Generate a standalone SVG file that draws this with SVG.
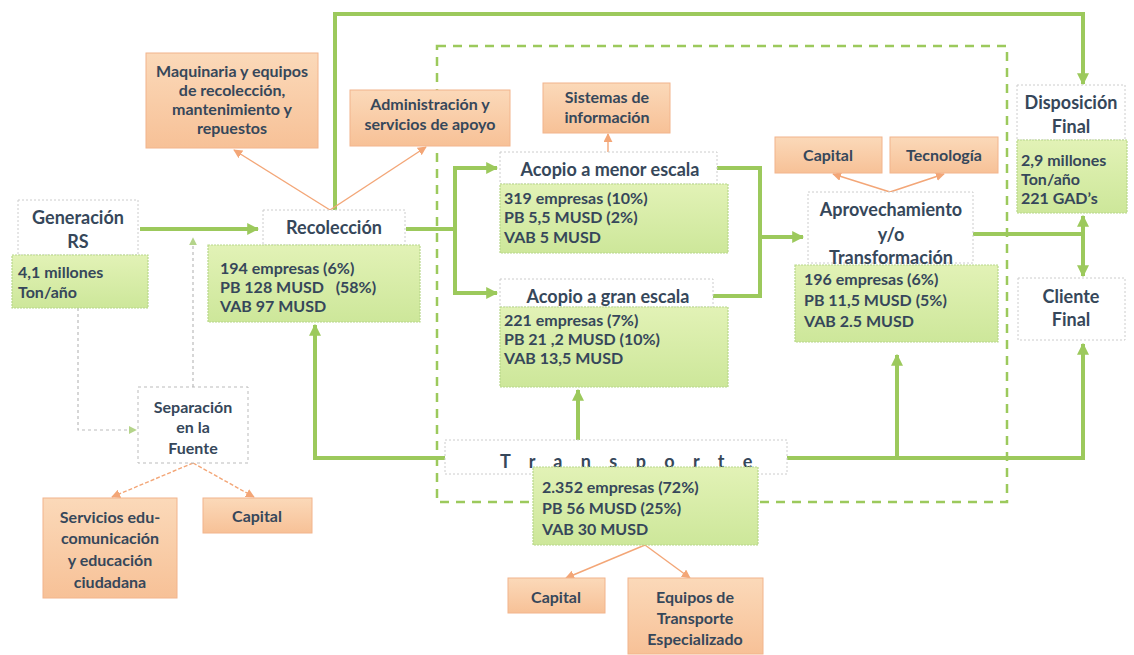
<svg xmlns="http://www.w3.org/2000/svg" width="1134" height="655" viewBox="0 0 1134 655">
<defs>
<linearGradient id="gg" x1="0" y1="0" x2="0" y2="1"><stop offset="0" stop-color="#e2f2b6"/><stop offset="1" stop-color="#cde79a"/></linearGradient>
<linearGradient id="og" x1="0" y1="0" x2="0" y2="1"><stop offset="0" stop-color="#fbd9b9"/><stop offset="1" stop-color="#f7c197"/></linearGradient>
<marker id="ag" viewBox="0 0 10 10" refX="9" refY="5" markerWidth="12" markerHeight="12" markerUnits="userSpaceOnUse" orient="auto"><path d="M0,0 L10,5 L0,10 z" fill="#9cc95c"/></marker>
<marker id="ao" viewBox="0 0 10 10" refX="9" refY="5" markerWidth="9" markerHeight="9" markerUnits="userSpaceOnUse" orient="auto"><path d="M0,0 L10,5 L0,10 z" fill="#f3a677"/></marker>
<marker id="ax" viewBox="0 0 10 10" refX="9" refY="5" markerWidth="8" markerHeight="8" markerUnits="userSpaceOnUse" orient="auto"><path d="M0,0 L10,5 L0,10 z" fill="#b4d48a"/></marker>
</defs>
<style>
text{font-family:Lato,"Open Sans","Liberation Sans",sans-serif;font-weight:bold;font-size:16px;fill:#36475a}
.c{text-anchor:middle}
.t{font-size:18px}
.k{font-size:16px}
.w{fill:#ffffff;stroke:#cccccc;stroke-width:1;stroke-dasharray:2 2}
.g{fill:url(#gg);stroke:#b8d88a;stroke-width:1.2;stroke-dasharray:2 1}
.o{fill:url(#og);stroke:#f2b48c;stroke-width:1}
.gl{fill:none;stroke:#9cc95c;stroke-width:4}
.ol{fill:none;stroke:#f3a677;stroke-width:1.4}
.od{fill:none;stroke:#f3a677;stroke-width:1.4;stroke-dasharray:4 2}
.xl{fill:none;stroke:#bbbbbb;stroke-width:1.2;stroke-dasharray:3 3}
.dr{fill:none;stroke:#9cc95c;stroke-width:2.5;stroke-dasharray:9 7}
</style>
<rect class="dr" x="437" y="46" width="570" height="456"/>
<g id="connectors">
<path class="gl" d="M140,229 H258" marker-end="url(#ag)"/>
<path class="gl" d="M406,229 H455"/>
<path class="gl" d="M455,229 V168 H497" marker-end="url(#ag)"/>
<path class="gl" d="M455,229 V293 H497" marker-end="url(#ag)"/>
<path class="gl" d="M717,168 H760 V296 H713"/>
<path class="gl" d="M760,237 H803" marker-end="url(#ag)"/>
<path class="gl" d="M973,234 H1083"/>
<path class="gl" d="M1083,234 V216" marker-end="url(#ag)"/>
<path class="gl" d="M1083,234 V276" marker-end="url(#ag)"/>
<path class="gl" d="M335,210 V14 H1083 V84" marker-end="url(#ag)"/>
<path class="gl" d="M445,458 H315 V325" marker-end="url(#ag)"/>
<path class="gl" d="M787,458 H1083 V344" marker-end="url(#ag)"/>
<path class="gl" d="M578,440 V390" marker-end="url(#ag)"/>
<path class="gl" d="M897,458 V355" marker-end="url(#ag)"/>
<path class="ol" d="M330,210 L234,150" marker-end="url(#ao)"/>
<path class="ol" d="M330,210 L426,147" marker-end="url(#ao)"/>
<path class="ol" d="M608,152 V134" marker-end="url(#ao)"/>
<path class="ol" d="M890,192 L833,174" marker-end="url(#ao)"/>
<path class="ol" d="M890,192 L944,174" marker-end="url(#ao)"/>
<path class="ol" d="M645,545 L566,578" marker-end="url(#ao)"/>
<path class="ol" d="M645,545 L690,578" marker-end="url(#ao)"/>
<path class="od" d="M193,463 L112,497" marker-end="url(#ao)"/>
<path class="od" d="M193,463 L254,497" marker-end="url(#ao)"/>
<path class="xl" d="M78,308 V430 H136" marker-end="url(#ax)"/>
<path class="xl" d="M193,387 V238" marker-end="url(#ax)"/>
</g>
<g id="generacion">
<rect class="w" x="18" y="200" width="120" height="55"/>
<text class="c t" x="78" y="224">Generación</text>
<text class="c t" x="78" y="248">RS</text>
<rect class="g" x="12" y="255" width="136" height="53"/>
<text x="18" y="278">4,1 millones</text>
<text x="18" y="298">Ton/año</text>
</g>
<g id="recoleccion">
<rect class="w" x="263" y="210" width="142" height="35"/>
<text class="c t" x="334" y="234">Recolección</text>
<rect class="g" x="208" y="245" width="212" height="77"/>
<text x="220" y="274">194 empresas (6%)</text>
<text x="220" y="293">PB 128 MUSD &#160;&#160;(58%)</text>
<text x="220" y="312">VAB 97 MUSD</text>
</g>
<g id="maquinaria">
<rect class="o" x="146" y="53" width="172" height="95"/>
<text class="c k" x="232" y="77">Maquinaria y equipos</text>
<text class="c k" x="232" y="96">de recolección,</text>
<text class="c k" x="232" y="115">mantenimiento y</text>
<text class="c k" x="232" y="134">repuestos</text>
</g>
<g id="administracion">
<rect class="o" x="350" y="90" width="160" height="56"/>
<text class="c k" x="430" y="110">Administración y</text>
<text class="c k" x="430" y="130">servicios de apoyo</text>
</g>
<g id="sistemas">
<rect class="o" x="543" y="83" width="127" height="50"/>
<text class="c k" x="607" y="103">Sistemas de</text>
<text class="c k" x="607" y="123">información</text>
</g>
<g id="acopio-menor">
<rect class="w" x="500" y="152" width="217" height="32"/>
<text class="c t" x="610" y="176">Acopio a menor escala</text>
<rect class="g" x="500" y="184" width="228" height="69"/>
<text x="504" y="204">319 empresas (10%)</text>
<text x="504" y="223">PB 5,5 MUSD (2%)</text>
<text x="504" y="243">VAB 5 MUSD</text>
</g>
<g id="acopio-gran">
<rect class="w" x="500" y="279" width="213" height="28"/>
<text class="c t" x="608" y="303">Acopio a gran escala</text>
<rect class="g" x="500" y="307" width="228" height="80"/>
<text x="504" y="326">221 empresas (7%)</text>
<text x="504" y="345">PB 21 ,2 MUSD (10%)</text>
<text x="504" y="364">VAB 13,5 MUSD</text>
</g>
<g id="capital-top">
<rect class="o" x="775" y="137" width="107" height="36"/>
<text class="c k" x="828" y="161">Capital</text>
</g>
<g id="tecnologia">
<rect class="o" x="890" y="137" width="108" height="36"/>
<text class="c k" x="944" y="161">Tecnología</text>
</g>
<g id="aprovechamiento">
<rect class="w" x="808" y="192" width="165" height="71"/>
<text class="c t" x="891" y="216">Aprovechamiento</text>
<text class="c t" x="891" y="241">y/o</text>
<text class="c t" x="891" y="264">Transformación</text>
<rect class="g" x="795" y="265" width="203" height="77"/>
<text x="804" y="285">196 empresas (6%)</text>
<text x="804" y="306">PB 11,5 MUSD (5%)</text>
<text x="804" y="327">VAB 2.5 MUSD</text>
</g>
<g id="disposicion">
<rect class="w" x="1017" y="85" width="108" height="55"/>
<text class="c t" x="1071" y="109">Disposición</text>
<text class="c t" x="1071" y="133">Final</text>
<rect class="g" x="1017" y="140" width="110" height="73"/>
<text x="1021" y="166">2,9 millones</text>
<text x="1021" y="185">Ton/año</text>
<text x="1021" y="204">221 GAD’s</text>
</g>
<g id="cliente">
<rect class="w" x="1018" y="278" width="107" height="62"/>
<text class="c t" x="1071" y="303">Cliente</text>
<text class="c t" x="1071" y="326">Final</text>
</g>
<g id="separacion">
<rect class="w" x="138" y="387" width="110" height="76" style="stroke:#bbbbbb;stroke-dasharray:3 3"/>
<text class="c k" x="193" y="413">Separación</text>
<text class="c k" x="193" y="433">en la</text>
<text class="c k" x="193" y="454">Fuente</text>
</g>
<g id="servicios">
<rect class="o" x="43" y="498" width="134" height="100"/>
<text class="c k" x="110" y="523">Servicios edu-</text>
<text class="c k" x="110" y="544">comunicación</text>
<text class="c k" x="110" y="566">y educación</text>
<text class="c k" x="110" y="588">ciudadana</text>
</g>
<g id="capital-sep">
<rect class="o" x="203" y="498" width="109" height="35"/>
<text class="c k" x="257" y="522">Capital</text>
</g>
<g id="transporte">
<rect class="w" x="445" y="440" width="342" height="34"/>
<text class="t" x="500" y="468" style="letter-spacing:7px">T r a n s p o r t e</text>
<rect class="g" x="533" y="467" width="225" height="78"/>
<text x="542" y="493">2.352 empresas (72%)</text>
<text x="542" y="514">PB 56 MUSD (25%)</text>
<text x="542" y="535">VAB 30 MUSD</text>
</g>
<g id="capital-trans">
<rect class="o" x="508" y="578" width="97" height="35"/>
<text class="c k" x="556" y="603">Capital</text>
</g>
<g id="equipos">
<rect class="o" x="628" y="578" width="135" height="76"/>
<text class="c k" x="695" y="603">Equipos de</text>
<text class="c k" x="695" y="624">Transporte</text>
<text class="c k" x="695" y="645">Especializado</text>
</g>
</svg>
